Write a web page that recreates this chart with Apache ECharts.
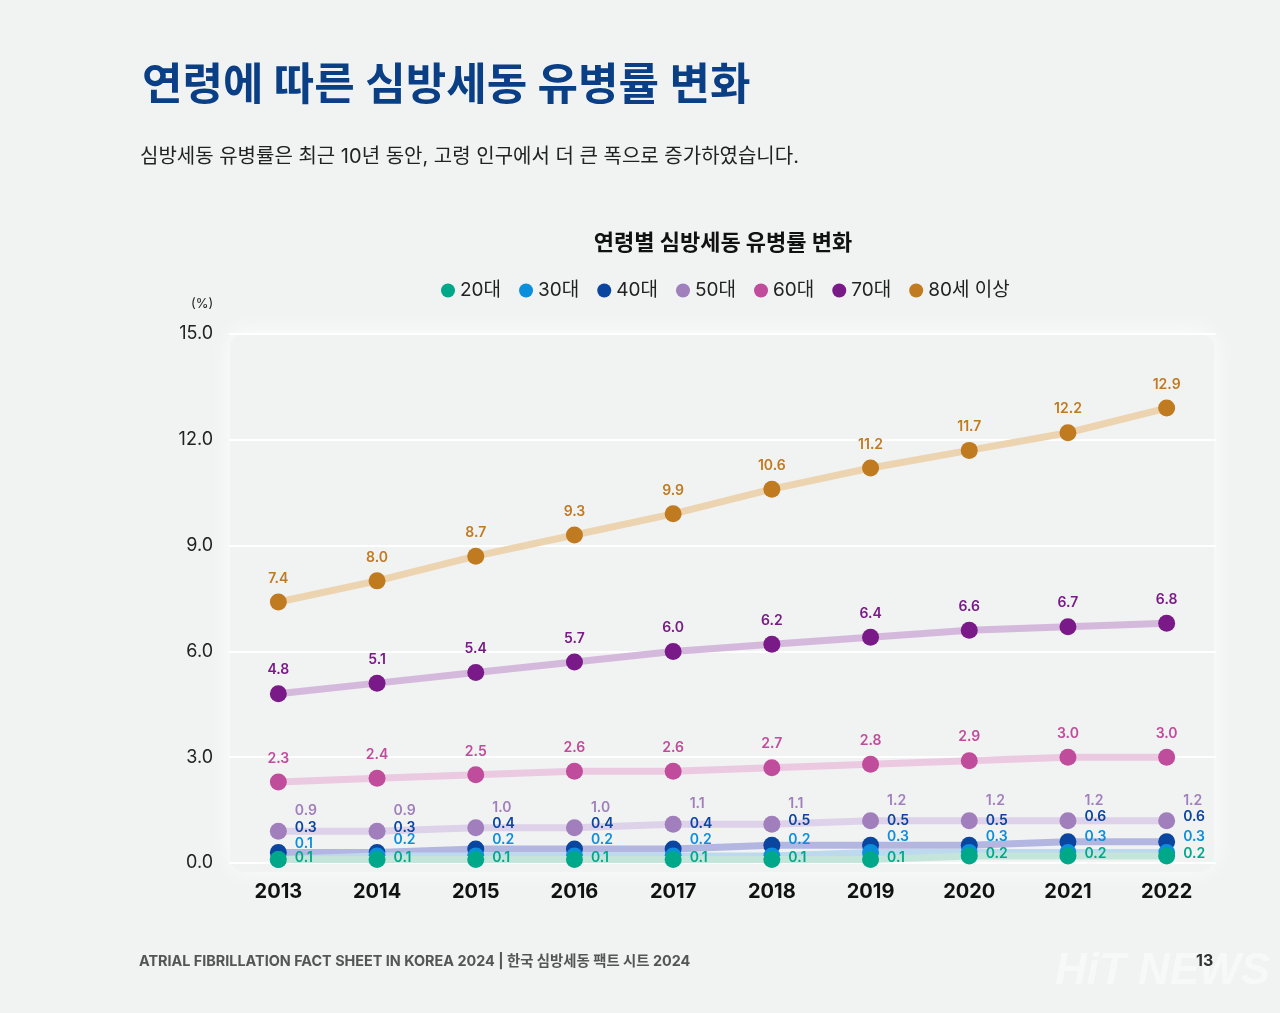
<!DOCTYPE html>
<html>
<head>
<meta charset="utf-8">
<script src="https://cdn.jsdelivr.net/npm/echarts@6/dist/echarts.min.js"></script>
<style>
  html, body { margin: 0; padding: 0; background: #f1f2f2; }
  #chart { width: 1280px; height: 1013px; }
</style>
</head>
<body>
<div id="chart"></div>
<script>
const years = ['2013','2014','2015','2016','2017','2018','2019','2020','2021','2022'];
const seriesNames = ['20대','30대','40대','50대','60대','70대','80세 이상'];
const v20 = [0.1,0.1,0.1,0.1,0.1,0.1,0.1,0.2,0.2,0.2];
const v30 = [0.1,0.2,0.2,0.2,0.2,0.2,0.3,0.3,0.3,0.3];
const v40 = [0.3,0.3,0.4,0.4,0.4,0.5,0.5,0.5,0.6,0.6];
const v50 = [0.9,0.9,1.0,1.0,1.1,1.1,1.2,1.2,1.2,1.2];
const v60 = [2.3,2.4,2.5,2.6,2.6,2.7,2.8,2.9,3.0,3.0];
const v70 = [4.8,5.1,5.4,5.7,6.0,6.2,6.4,6.6,6.7,6.8];
const v80 = [7.4,8.0,8.7,9.3,9.9,10.6,11.2,11.7,12.2,12.9];
const dotColors = ['#00a88a','#0b8fdc','#0a45a0','#a07fbc','#c04c9c','#7a1a88','#c07a20'];
const lineColors = ['#c3e5da','#bcd9f0','#b3b6e0','#ddd2e9','#ebc9e1','#d5b9dc','#ecd4b1'];
const values = [v20, v30, v40, v50, v60, v70, v80];
const labelPos = ['right','right','right','right','top','top','top'];
const labelDy = [-2, -16, -25, -20, 0, 0, 0];
const FONT = 'Inter, "Noto Sans CJK KR", sans-serif';

const series = [];
for (let i = values.length - 1; i >= 0; i--) {
  series.push({
    name: seriesNames[i],
    type: 'line',
    data: values[i],
    symbol: 'circle',
    symbolSize: 17,
    z: 10 - i,
    itemStyle: { color: dotColors[i] },
    lineStyle: { color: lineColors[i], width: 7 },
    emphasis: { disabled: true },
    label: {
      show: true,
      position: labelPos[i],
      distance: 8,
      color: dotColors[i],
      fontFamily: FONT,
      fontSize: 14,
      fontWeight: 600,
      formatter: p => p.value.toFixed(1)
    },
    labelLayout: { hideOverlap: false, dy: labelDy[i] }
  });
}

const chart = echarts.init(document.getElementById('chart'), null, {renderer: 'canvas'});
chart.setOption({
  backgroundColor: '#f1f2f2',
  animation: false,
  textStyle: { fontFamily: FONT },
  title: [
    { text: '연령에 따른 심방세동 유병률 변화', left: 137, top: 60,
      textStyle: { fontFamily: FONT, fontSize: 44, fontWeight: 'bold', color: '#0b3f85' } },
    { text: '심방세동 유병률은 최근 10년 동안, 고령 인구에서 더 큰 폭으로 증가하였습니다.', left: 135, top: 142,
      textStyle: { fontFamily: FONT, fontSize: 20, fontWeight: 'normal', color: '#222' } },
    { text: '연령별 심방세동 유병률 변화', left: 718, textAlign: 'center', top: 227,
      textStyle: { fontFamily: FONT, fontSize: 22, fontWeight: 'bold', color: '#111' } }
  ],
  legend: {
    data: seriesNames,
    left: 436,
    top: 276,
    itemWidth: 14, itemHeight: 14, itemGap: 18,
    icon: 'circle',
    textStyle: { fontFamily: FONT, fontSize: 19, color: '#222' }
  },
  grid: { left: 229, right: 64, top: 334, bottom: 150, containLabel: false },
  xAxis: {
    type: 'category',
    data: years,
    boundaryGap: true,
    axisLine: { show: false },
    axisTick: { show: false },
    axisLabel: { fontFamily: FONT, fontSize: 20, fontWeight: 'bold', color: '#111', margin: 19 }
  },
  yAxis: {
    type: 'value',
    min: 0, max: 15, interval: 3,
    axisLine: { show: false },
    axisTick: { show: false },
    axisLabel: { fontFamily: FONT, fontSize: 18, color: '#222', margin: 16, formatter: v => v.toFixed(1) },
    splitLine: { lineStyle: { color: '#ffffff', width: 2 } }
  },
  graphic: [
    { type: 'rect', z: -10, silent: true,
      shape: { x: 230, y: 334, width: 984, height: 538, r: 14 },
      style: { fill: '#f1f2f2', shadowBlur: 24, shadowColor: 'rgba(255,255,255,0.9)', shadowOffsetY: -2 } },
    { type: 'text', left: 191, top: 298, silent: true,
      style: { text: '(%)', fontFamily: FONT, fontSize: 13, fill: '#222' } },
    { type: 'text', left: 139, top: 954, silent: true,
      style: { text: 'ATRIAL FIBRILLATION FACT SHEET IN KOREA 2024 | 한국 심방세동 팩트 시트 2024', fontFamily: FONT, fontSize: 14.4, fontWeight: 'bold', fill: '#555' } },
    { type: 'text', left: 1055, top: 950, silent: true, z: -5,
      style: { text: 'HiT NEWS', fontFamily: '"Liberation Sans", sans-serif', fontSize: 44, fontStyle: 'italic', fontWeight: 'bold', fill: 'rgba(255,255,255,0.45)' } },
    { type: 'text', left: 1196, top: 953, silent: true,
      style: { text: '13', fontFamily: FONT, fontSize: 16, fontWeight: 'bold', fill: '#333' } }
  ],
  series: series
});
</script>
</body>
</html>
